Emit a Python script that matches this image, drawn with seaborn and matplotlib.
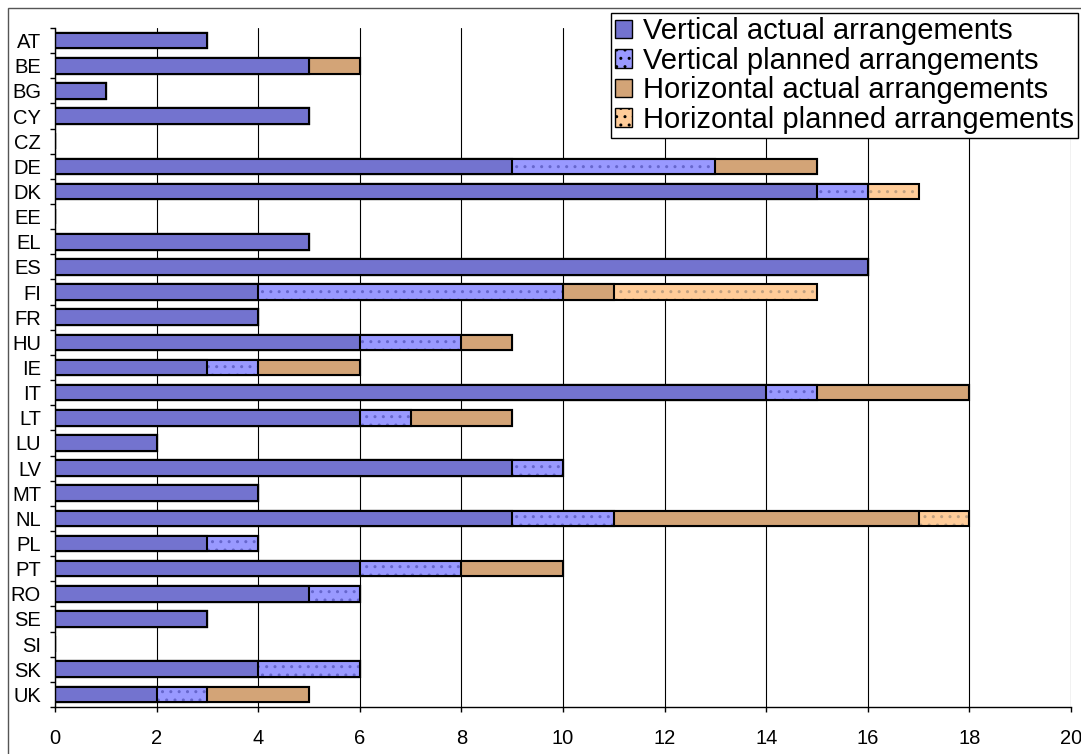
import pandas as pd
import matplotlib.pyplot as plt
import seaborn as sns
from matplotlib.patches import Patch, Rectangle

countries = ["AT", "BE", "BG", "CY", "CZ", "DE", "DK", "EE", "EL", "ES", "FI", "FR", "HU", "IE",
             "IT", "LT", "LU", "LV", "MT", "NL", "PL", "PT", "RO", "SE", "SI", "SK", "UK"]
vertical_actual = [3, 5, 1, 5, 0, 9, 15, 0, 5, 16, 4, 4, 6, 3, 14, 6, 2, 9, 4, 9, 3, 6, 5, 3, 0, 4, 2]
vertical_planned = [0, 0, 0, 0, 0, 4, 1, 0, 0, 0, 6, 0, 2, 1, 1, 1, 0, 1, 0, 2, 1, 2, 1, 0, 0, 2, 1]
horizontal_actual = [0, 1, 0, 0, 0, 2, 0, 0, 0, 0, 1, 0, 1, 2, 3, 2, 0, 0, 0, 6, 0, 2, 0, 0, 0, 0, 2]
horizontal_planned = [0, 0, 0, 0, 0, 0, 1, 0, 0, 0, 4, 0, 0, 0, 0, 0, 0, 0, 0, 1, 0, 0, 0, 0, 0, 0, 0]

series = ["Vertical actual arrangements", "Vertical planned arrangements",
          "Horizontal actual arrangements", "Horizontal planned arrangements"]
colors = ["#7373cf", "#9999ff", "#d3a477", "#ffcc99"]
hatches = ["", "..", "", ".."]
dot_colors = ["#7373cf", "#6666cc", "#d3a477", "#c0a080"]

df = pd.DataFrame({"country": countries, series[0]: vertical_actual, series[1]: vertical_planned,
                   series[2]: horizontal_actual, series[3]: horizontal_planned})
# cumulative totals so stacked bars can be drawn on top of each other
cum = df[series].cumsum(axis=1)

sns.set_style("white")
plt.rcParams["font.family"] = ["Liberation Sans", "DejaVu Sans"]
plt.rcParams["text.color"] = "black"
plt.rcParams["xtick.color"] = "black"
plt.rcParams["ytick.color"] = "black"

fig = plt.figure(figsize=(10.81, 7.54), dpi=100)
ax = fig.add_axes([55 / 1081, 1 - 707 / 754, (1071 - 55) / 1081, (707 - 28) / 754])

for i in range(3, -1, -1):
    sns.barplot(x=cum[series[i]], y=df["country"], orient="h", color=colors[i], saturation=1,
                width=0.62, edgecolor=dot_colors[i], hatch=hatches[i], linewidth=0,
                errorbar=None, ax=ax)
    sns.barplot(x=cum[series[i]], y=df["country"], orient="h", color="black", fill=False,
                width=0.62, linewidth=1.5, errorbar=None, ax=ax)

ax.set_xlim(0, 20)
ax.set_ylim(len(countries) - 0.5, -0.5)
ax.set_xticks(range(0, 21, 2))
ax.set_xlabel("")
ax.set_ylabel("")
ax.set_axisbelow(True)
ax.grid(axis="x", color="black", linewidth=0.8)
ax.set_yticks([k - 0.5 for k in range(len(countries) + 1)], minor=True)
ax.tick_params(axis="y", which="major", length=0, pad=10, labelsize=14.5, labelcolor="black")
ax.tick_params(axis="y", which="minor", length=3.6, width=1, color="black", direction="out", left=True)
ax.tick_params(axis="x", length=3.6, width=1, color="black", direction="out", bottom=True,
               labelsize=14.5, pad=12, labelcolor="black")
for s in ["top", "right"]:
    ax.spines[s].set_visible(False)
for s in ["left", "bottom"]:
    ax.spines[s].set_color("black")
    ax.spines[s].set_linewidth(1)

# outer chart border (only left and top are inside the image)
fig.patches.append(Rectangle((8 / 1081, -0.1), 1.2, 1 - 8 / 754 + 0.1, transform=fig.transFigure,
                             fill=False, edgecolor="#555555", linewidth=1))

handles = [Patch(facecolor=colors[i], edgecolor="black", hatch=hatches[i]) for i in range(4)]
leg = fig.legend(handles, series, loc="upper right", bbox_to_anchor=(1078 / 1081, 1 - 13 / 754),
                 bbox_transform=fig.transFigure, fontsize=21, frameon=True, fancybox=False,
                 handlelength=0.6, handleheight=0.6, handletextpad=0.35, labelspacing=0.05,
                 borderpad=0.15, borderaxespad=0, labelcolor="black")
leg.get_frame().set_edgecolor("black")
leg.get_frame().set_linewidth(1)
leg.get_frame().set_alpha(1)

plt.savefig("out.png", dpi=100)
plt.close()
